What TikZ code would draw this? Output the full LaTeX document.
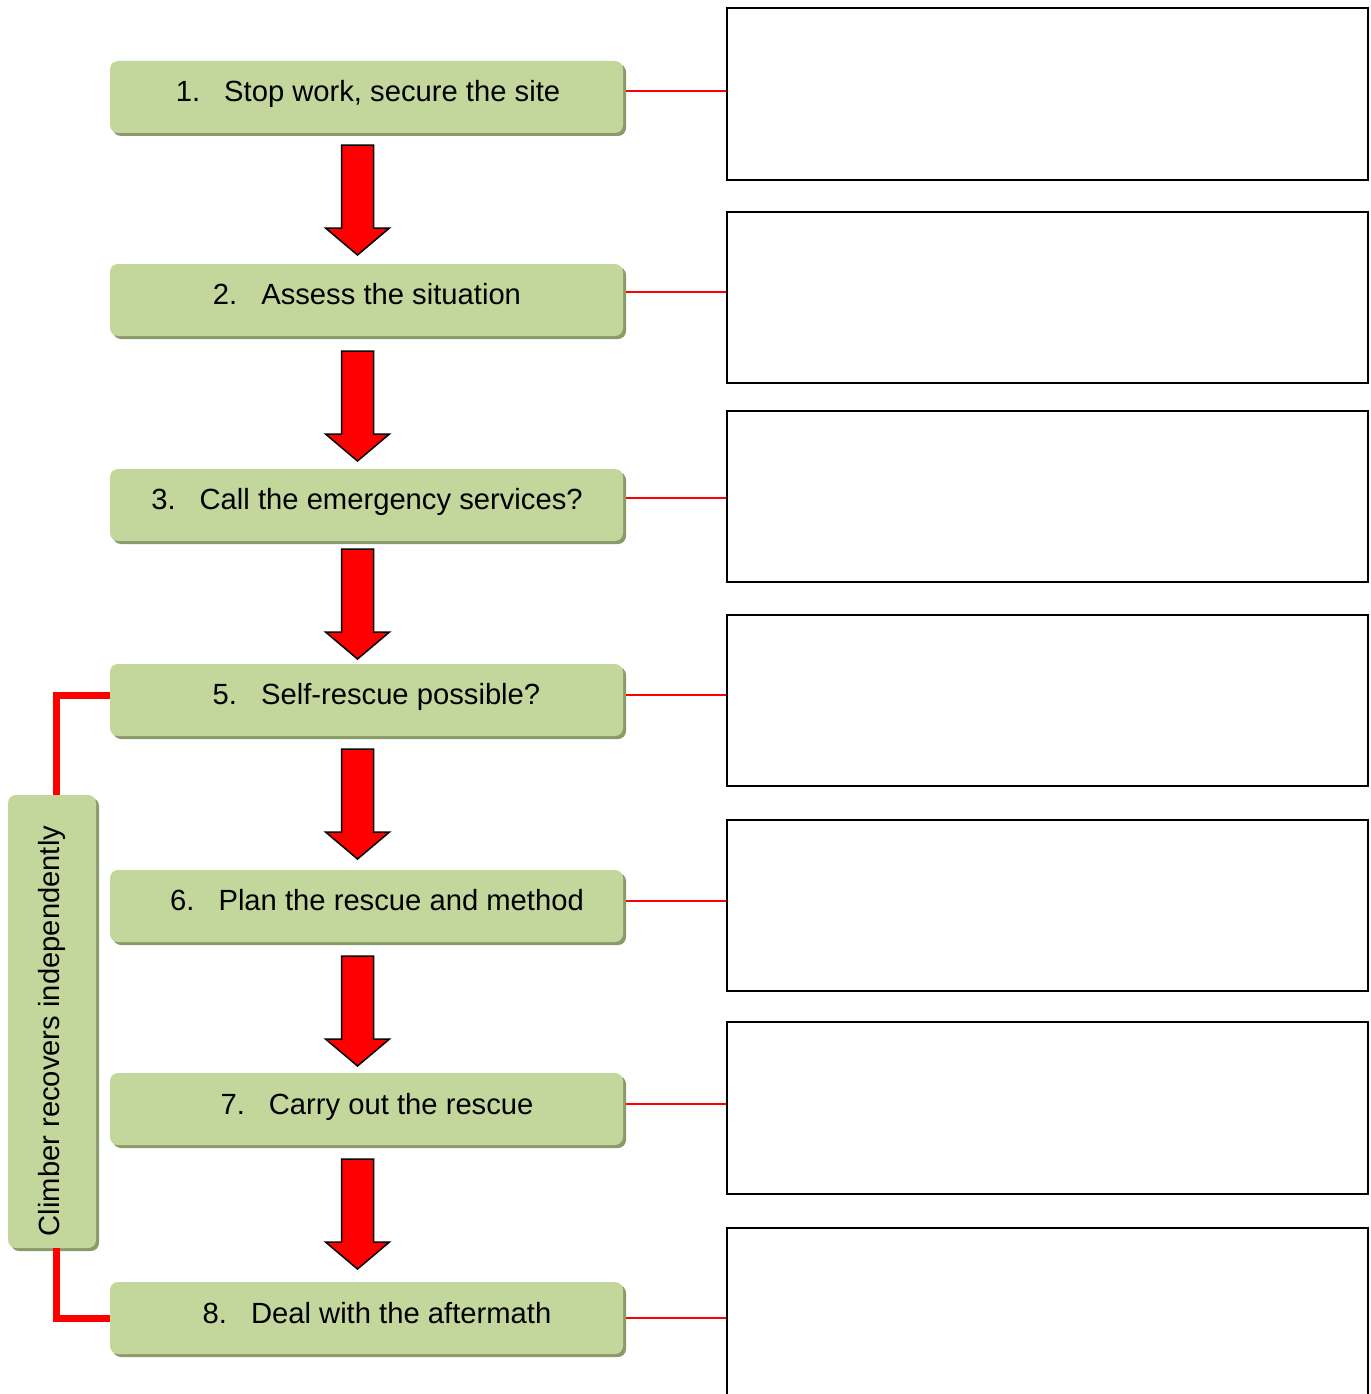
\documentclass[tikz,border=0pt]{standalone}
\usepackage{fontspec}
\setmainfont{Liberation Sans}
\usetikzlibrary{shadows,calc}
\definecolor{boxgreen}{HTML}{C3D69B}
\definecolor{shadowgreen}{HTML}{8A9A6A}
\tikzset{
  gbox/.style={fill=boxgreen, rounded corners=8pt, minimum width=513pt, minimum height=72pt, inner sep=0pt,
    drop shadow={shadow xshift=3pt, shadow yshift=-3pt, fill=shadowgreen, opacity=1}},
  sidebox/.style={fill=boxgreen, rounded corners=8pt, minimum width=88pt, minimum height=453pt, inner sep=0pt,
    drop shadow={shadow xshift=3pt, shadow yshift=-3pt, fill=shadowgreen, opacity=1}},
  txt/.style={anchor=base, inner sep=0pt, font=\fontsize{29.2}{35}\selectfont},
  rbox/.style={draw=black, line width=2.5pt, minimum width=641pt, inner sep=0pt},
  link/.style={draw=red, line width=2.3pt},
  thick link/.style={draw=red, line width=6.5pt, line join=miter, line cap=butt},
  bigarr/.style={draw=black, fill=red, line width=1.5pt, line join=miter},
}
% #1, #2: the boxes joined; #3: top of the arrow (px from top)
\newcommand\flowarrow[3]{%
  \path[bigarr] let \p1=(#1.south), \p2=(#2.north) in
    (341.5,-#3) -- (373.5,-#3) -- (373.5,-#3-83) -- (389.5,-#3-83) -- (357.5,-#3-110)
    -- (325.5,-#3-83) -- (341.5,-#3-83) -- cycle;}
\begin{document}
\begin{tikzpicture}[x=1pt,y=1pt]
\useasboundingbox (0,0) rectangle (1370,-1394);
% right boxes
\node[rbox, minimum height=172pt] (r1) at (1047.5,-94) {};
\node[rbox, minimum height=171pt] (r2) at (1047.5,-297.5) {};
\node[rbox, minimum height=171pt] (r3) at (1047.5,-496.5) {};
\node[rbox, minimum height=171pt] (r5) at (1047.5,-700.5) {};
\node[rbox, minimum height=171pt] (r6) at (1047.5,-905.5) {};
\node[rbox, minimum height=172pt] (r7) at (1047.5,-1108) {};
\node[rbox, minimum height=180pt] (r8) at (1047.5,-1318) {};
% green boxes
\node[gbox] (b1) at (366.5,-97) {};
\node[gbox] (b2) at (366.5,-300) {};
\node[gbox] (b3) at (366.5,-505) {};
\node[gbox] (b5) at (366.5,-700) {};
\node[gbox] (b6) at (366.5,-906) {};
\node[gbox] (b7) at (366.5,-1109) {};
\node[gbox] (b8) at (366.5,-1318) {};
\node[txt] at (368,-101.5) {1.\hspace{24pt}Stop work, secure the site};
\node[txt] at (367,-304.5) {2.\hspace{24pt}Assess the situation};
\node[txt] at (367,-509) {3.\hspace{24pt}Call the emergency services?};
\node[txt] at (376.5,-704.5) {5.\hspace{24pt}Self-rescue possible?};
\node[txt] at (377,-910.5) {6.\hspace{24pt}Plan the rescue and method};
\node[txt] at (377,-1114) {7.\hspace{24pt}Carry out the rescue};
\node[txt] at (377,-1323) {8.\hspace{24pt}Deal with the aftermath};
% side box
\node[sidebox] (side) at (52,-1021.5) {};
\node[txt, rotate=90] at (59,-1031) {Climber recovers independently};
% thin red links
\foreach \b/\r/\yy in {b1/r1/91, b2/r2/292, b3/r3/498, b5/r5/695, b6/r6/901, b7/r7/1104, b8/r8/1318}
  \draw[link] ([xshift=3pt]\b.east |- 0,-\yy) -- (\r.west |- 0,-\yy);
% thick red links
\draw[thick link] (b5.west |- 0,-695.5) -| (side.north -| 56.5,0);
\draw[thick link] (side.south -| 56.5,0) |- (b8.west |- 0,-1318.5);
% arrows
\flowarrow{b1}{b2}{145}
\flowarrow{b2}{b3}{351}
\flowarrow{b3}{b5}{549}
\flowarrow{b5}{b6}{749}
\flowarrow{b6}{b7}{956}
\flowarrow{b7}{b8}{1159}
\end{tikzpicture}
\end{document}
